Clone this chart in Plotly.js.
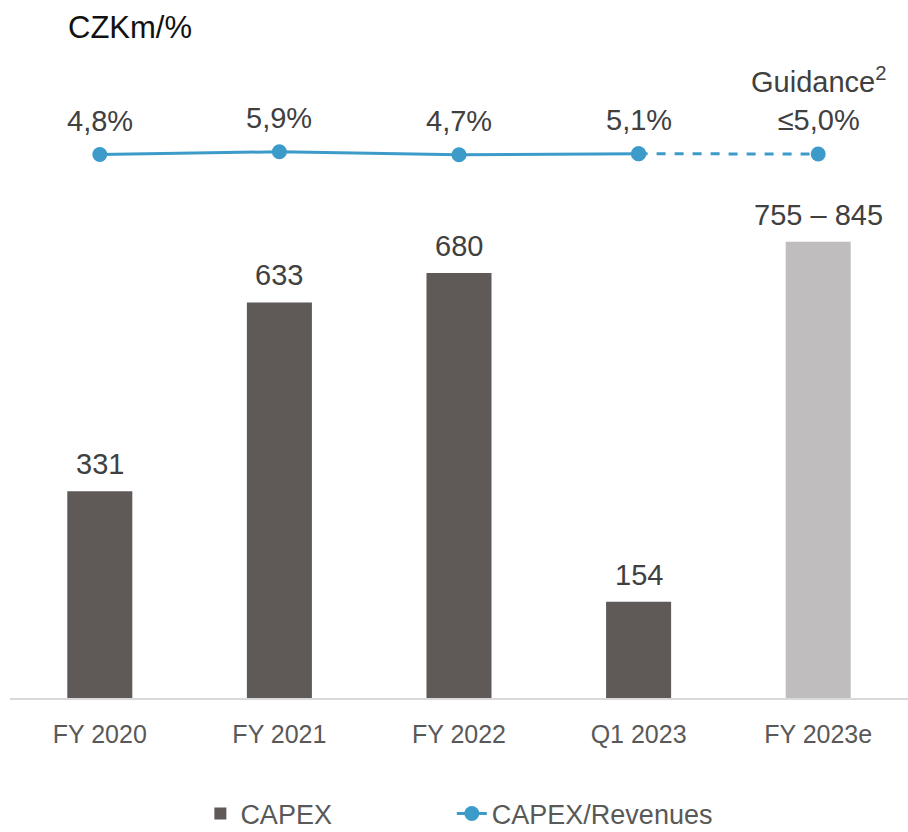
<!DOCTYPE html>
<html>
<head>
<meta charset="utf-8">
<script src="https://cdn.plot.ly/plotly-3.0.1.min.js"></script>
<style>html,body{margin:0;padding:0;background:#fff;}#chart{width:908px;height:832px;}</style>
</head>
<body>
<div id="chart"></div>
<script>
const categories = ["FY 2020", "FY 2021", "FY 2022", "Q1 2023", "FY 2023e"];
const capex = [331, 633, 680, 154, 730];
const capexLabels = ["331", "633", "680", "154", "755 – 845"];
const ratio = [4.8, 5.9, 4.7, 5.1, 5.0];
const ratioLabels = ["4,8%", "5,9%", "4,7%", "5,1%", "Guidance<sup>2</sup><br>≤5,0%"];

const barColors = ["#5f5a58", "#5f5a58", "#5f5a58", "#5f5a58", "#bfbdbd"];
const lineColor = "#3d9bc9";
const textColor = "#404040";
const FONT = "Liberation Sans, Arial, sans-serif";

const traces = [
  {
    type: "bar", name: "CAPEX", x: categories, y: capex, legend: "legend",
    marker: { color: barColors }, hoverinfo: "skip", showlegend: true
  },
  {
    type: "scatter", mode: "lines+markers", name: "CAPEX/Revenues", legend: "legend2",
    x: categories.slice(0, 4), y: ratio.slice(0, 4), yaxis: "y2",
    line: { color: lineColor, width: 3 }, marker: { color: lineColor, size: 15 }
  },
  {
    type: "scatter", mode: "lines+markers", name: "CAPEX/Revenues guidance",
    x: categories.slice(3), y: ratio.slice(3), yaxis: "y2", showlegend: false,
    line: { color: lineColor, width: 3, dash: "dash" }, marker: { color: lineColor, size: 15 }
  }
];

const annotations = [];
categories.forEach((c, i) => {
  annotations.push({
    x: c, y: capex[i], xref: "x", yref: "y", text: capexLabels[i],
    showarrow: false, yanchor: "bottom", yshift: 9,
    font: { family: FONT, size: 29, color: textColor }
  });
  annotations.push({
    x: c, y: ratio[i], xref: "x", yref: "y2", text: ratioLabels[i],
    showarrow: false, yanchor: "bottom", yshift: 16,
    font: { family: FONT, size: 29, color: textColor }
  });
});

const legendFont = { family: FONT, size: 27, color: "#595959" };

const layout = {
  width: 908, height: 832,
  margin: { l: 10, r: 0, t: 73, b: 134 },
  paper_bgcolor: "#fff", plot_bgcolor: "#fff",
  font: { family: FONT, color: textColor },
  title: {
    text: "CZKm/%", x: 68 / 908, xanchor: "left", xref: "container",
    y: 1 - 27 / 832, yanchor: "middle", yref: "container",
    font: { family: FONT, size: 31, color: "#111" }
  },
  bargap: 0.638,
  xaxis: {
    type: "category", showgrid: false, zeroline: false,
    showline: true, linecolor: "#d9d9d9", linewidth: 2,
    ticks: "outside", ticklen: 13, tickcolor: "rgba(0,0,0,0)",
    tickfont: { family: FONT, size: 25, color: "#595959" }
  },
  yaxis: { range: [0, 1000], visible: false, showgrid: false, zeroline: false, fixedrange: true },
  yaxis2: { range: [-212.6, 37.4], overlaying: "y", visible: false, showgrid: false, zeroline: false },
  showlegend: true,
  legend: {
    orientation: "h", x: 0.212, xanchor: "left", xref: "paper",
    y: 1 - 814 / 832, yanchor: "middle", yref: "container",
    font: legendFont
  },
  legend2: {
    orientation: "h", x: 0.492, xanchor: "left", xref: "paper",
    y: 1 - 814 / 832, yanchor: "middle", yref: "container",
    font: legendFont
  },
  annotations: annotations
};

Plotly.newPlot("chart", traces, layout, { displayModeBar: false, staticPlot: true });
</script>
</body>
</html>
